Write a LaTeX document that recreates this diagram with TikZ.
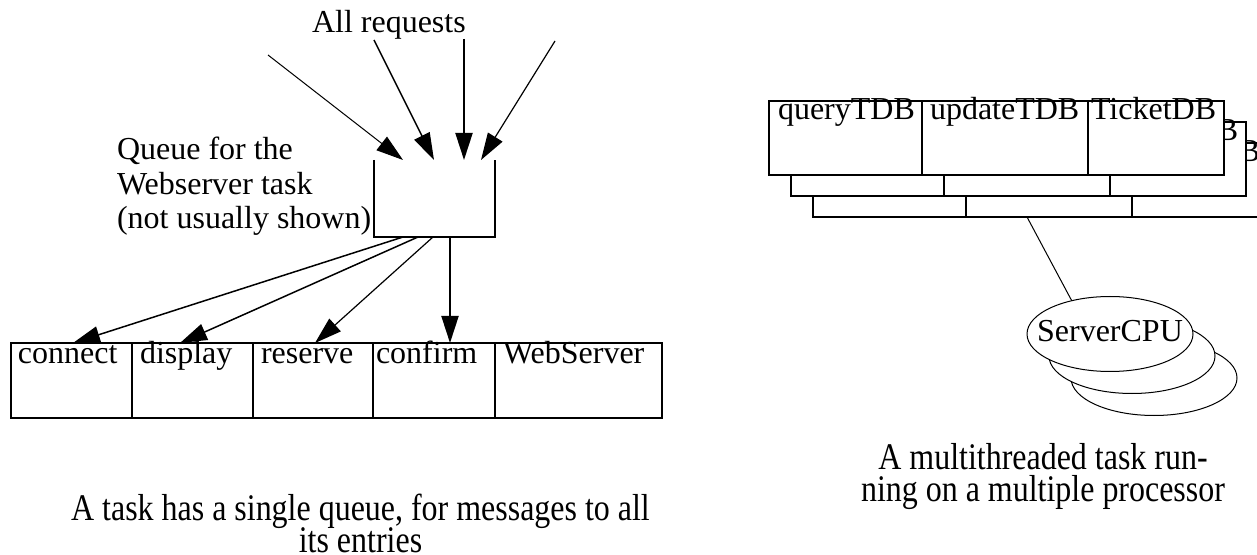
\documentclass[tikz,border=0pt]{standalone}
\usepackage{fontspec}
\setmainfont{Liberation Serif}
\newfontfamily\capfont[FakeStretch=0.85]{Liberation Serif}
\usetikzlibrary{arrows.meta,calc,shapes.geometric}

\begin{document}
\begin{tikzpicture}[x=0.5pt,y=-0.5pt,
  every node/.style={inner sep=0pt, outer sep=0pt},
  txt/.style={font=\fontsize{16pt}{17pt}\selectfont, anchor=base west},
  captxt/.style={font=\capfont\fontsize{18.8pt}{16.5pt}\selectfont, anchor=base},
  cell/.style={draw, line width=0.75pt, anchor=north west, fill=white},
  entry/.style={cell, minimum height=37.5pt},
  layer/.style={cell, minimum height=37pt},
  cpu/.style={draw, ellipse, line width=0.5pt, fill=white,
    minimum width=83pt, minimum height=37.5pt},
  req/.style={-{Triangle[length=13.5pt,width=8.5pt]}},
]
\useasboundingbox (0,0) rectangle (1257,555);
\clip (0,0) rectangle (1257,555);

% ---------- left: single queue feeding all entries ----------
\node[txt] (allreq) at (312,33) {All requests};

\coordinate (r1) at (268,55);
\coordinate (r2) at (374,40);
\coordinate (r3) at (464,39);
\coordinate (r4) at (555,41);

\node[anchor=north west, minimum width=60.5pt, minimum height=38.5pt] (queue) at (374,160) {};
\draw[line width=0.75pt] (queue.north west) -- (queue.south west)
  -- (queue.south east) -- (queue.north east);

\draw[req, line width=0.5pt]  (r1) -- ($(queue.north west)+(29,0)$);
\draw[req, line width=0.75pt] (r2) -- ($(queue.north west)+(60,0)$);
\draw[req, line width=1pt]    (r3) -- ($(queue.north west)+(90,0)$);
\draw[req, line width=0.6pt]  (r4) -- ($(queue.north west)+(107,0)$);

\node[txt] (ql1) at (117,160) {Queue for the};
\node[txt] (ql2) at (117,194.5) {Webserver task};
\node[txt] (ql3) at (117,229) {(not usually shown)};

% entries of the WebServer task
\node[entry, minimum width=60.5pt] (connect) at (11,343) {};
\node[entry, minimum width=60.5pt] (display) at (132,343) {};
\node[entry, minimum width=60pt]   (reserve) at (253,343) {};
\node[entry, minimum width=61pt]   (confirm) at (373,343) {};
\node[entry, minimum width=83.5pt] (websrv)  at (495,343) {};

\node[txt] at ($(connect.north west)+(7,21)$) {connect};
\node[txt] at ($(display.north west)+(8,21)$) {display};
\node[txt] at ($(reserve.north west)+(8,21)$) {reserve};
\node[txt] at ($(confirm.north west)+(3,21)$) {confirm};
\node[txt] at ($(websrv.north west)+(8,21)$)  {WebServer};

\draw[req, line width=0.75pt] ($(queue.south west)+(29,0)$) -- ($(connect.north west)+(62,0)$);
\draw[req, line width=0.75pt] ($(queue.south west)+(44,0)$) -- ($(display.north west)+(48,0)$);
\draw[req, line width=0.6pt]  ($(queue.south west)+(59,0)$) -- ($(reserve.north west)+(62,0)$);
\draw[req, line width=1pt]    ($(queue.south west)+(76,0)$) -- ($(confirm.north west)+(77,0)$);

\node[captxt] (capl1) at (360.5,520) {A task has a single queue, for messages to all};
\node[captxt] (capl2) at (360.5,552) {its entries};

% ---------- right: multithreaded task on a multiprocessor ----------
\foreach \k/\dx/\dy in {3/44/42, 2/22/21, 1/0/0} {
  \node[layer, minimum width=76.5pt] (q\k) at (769+\dx,101+\dy) {};
  \node[layer, minimum width=83pt]   (u\k) at (922+\dx,101+\dy) {};
  \node[layer, minimum width=68pt]   (t\k) at (1088+\dx,101+\dy) {};
  \node[txt] at ($(q\k.north west)+(9,18.5)$) {queryTDB};
  \node[txt] at ($(u\k.north west)+(8,18.5)$) {updateTDB};
  \node[txt] at ($(t\k.north west)+(3,18.5)$) {TicketDB};
}

\node[cpu] (cpu3) at (1154,378) {};
\node[cpu] (cpu2) at (1132,356) {};
\node[cpu] (cpu1) at (1110,334) {};
\node[txt, anchor=base] at ($(cpu1.center)+(0,8)$) {ServerCPU};

\draw[line width=0.5pt] ($(u3.south west)+(61,0)$) -- (cpu1.139);

\node[captxt] (capr1) at (1043,469) {A multithreaded task run-};
\node[captxt] (capr2) at (1043,501) {ning on a multiple processor};
\end{tikzpicture}
\end{document}
